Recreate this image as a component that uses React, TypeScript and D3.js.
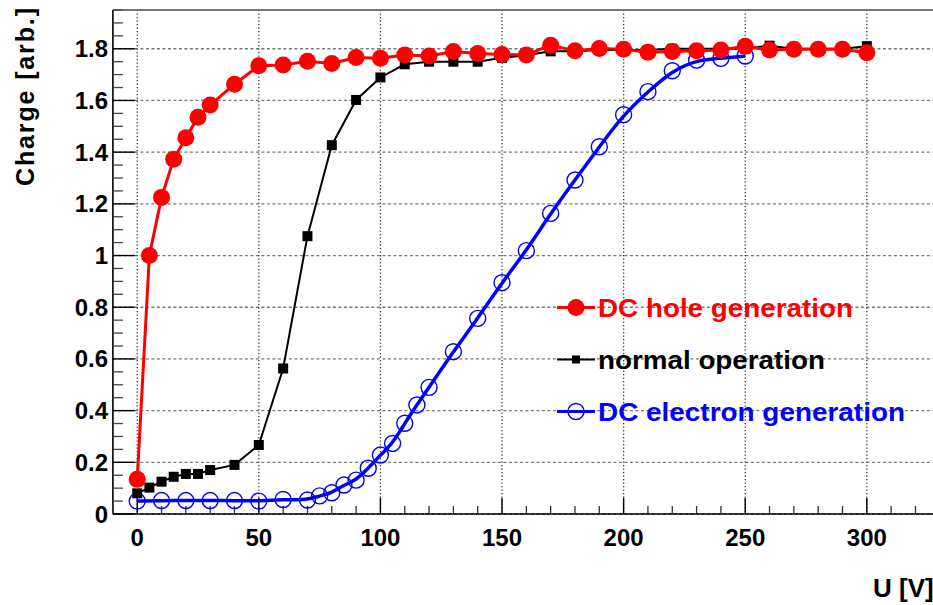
import React from 'react';
import * as d3 from 'd3';

// ---------- data ----------
const holeU = [0, 5, 10, 15, 20, 25, 30, 40, 50, 60, 70, 80, 90, 100, 110, 120, 130, 140, 150, 160, 170, 180, 190, 200, 210, 220, 230, 240, 250, 260, 270, 280, 290, 300];
const holeQ = [0.134, 1.0, 1.225, 1.373, 1.456, 1.535, 1.582, 1.663, 1.734, 1.737, 1.752, 1.743, 1.766, 1.763, 1.776, 1.772, 1.789, 1.782, 1.778, 1.776, 1.814, 1.792, 1.801, 1.798, 1.787, 1.789, 1.792, 1.795, 1.81, 1.795, 1.798, 1.798, 1.798, 1.785];

const normalU = [0, 5, 10, 15, 20, 25, 30, 40, 50, 60, 70, 80, 90, 100, 110, 120, 130, 140, 150, 160, 170, 180, 190, 200, 210, 220, 230, 240, 250, 260, 270, 280, 290, 300];
const normalQ = [0.08, 0.102, 0.125, 0.144, 0.155, 0.155, 0.17, 0.19, 0.267, 0.563, 1.075, 1.427, 1.602, 1.689, 1.74, 1.75, 1.75, 1.75, 1.765, 1.775, 1.79, 1.79, 1.795, 1.795, 1.795, 1.8, 1.8, 1.8, 1.8, 1.812, 1.8, 1.8, 1.8, 1.81];

const electronU = [0, 10, 20, 30, 40, 50, 60, 70, 75, 80, 85, 90, 95, 100, 105, 110, 115, 120, 130, 140, 150, 160, 170, 180, 190, 200, 210, 220, 230, 240, 250];
const electronQ = [0.05, 0.052, 0.052, 0.052, 0.052, 0.05, 0.056, 0.054, 0.07, 0.082, 0.112, 0.131, 0.177, 0.228, 0.273, 0.351, 0.422, 0.49, 0.628, 0.757, 0.895, 1.019, 1.163, 1.292, 1.421, 1.545, 1.634, 1.715, 1.756, 1.763, 1.772];

const xMajorTicks = [0, 50, 100, 150, 200, 250, 300];
const xTickLabels = ['0', '50', '100', '150', '200', '250', '300'];
const xMinorTicks = [-10, 10, 20, 30, 40, 60, 70, 80, 90, 110, 120, 130, 140, 160, 170, 180, 190, 210, 220, 230, 240, 260, 270, 280, 290, 310, 320, 330, 340];
const yMajorTicks = [0, 0.2, 0.4, 0.6, 0.8, 1.0, 1.2, 1.4, 1.6, 1.8];
const yTickLabels = ['0', '0.2', '0.4', '0.6', '0.8', '1', '1.2', '1.4', '1.6', '1.8'];
const yMinorTicks = [0.05, 0.1, 0.15, 0.25, 0.3, 0.35, 0.45, 0.5, 0.55, 0.65, 0.7, 0.75, 0.85, 0.9, 0.95, 1.05, 1.1, 1.15, 1.25, 1.3, 1.35, 1.45, 1.5, 1.55, 1.65, 1.7, 1.75, 1.85, 1.9, 1.95];

const legendLabels = ['DC hole generation', 'normal operation', 'DC electron generation'];
const xTitle = 'U [V]';
const yTitle = 'Charge [arb.]';

const FONT = '"Liberation Sans", Arial, Helvetica, sans-serif';

export default function App() {
  const W = 933;
  const H = 605;
  const x = d3.scaleLinear().domain([-10, 340]).range([112.9, 964.1]);
  const y = d3.scaleLinear().domain([0, 1.95]).range([514, 10]);
  const left = x(-10);
  const right = W;
  const top = y(1.95);
  const bottom = y(0);

  const lineStraight = d3
    .line<[number, number]>()
    .x((d) => x(d[0]))
    .y((d) => y(d[1]));
  const lineSmooth = d3
    .line<[number, number]>()
    .x((d) => x(d[0]))
    .y((d) => y(d[1]))
    .curve(d3.curveBasis);

  const hole: [number, number][] = holeU.map((u, i) => [u, holeQ[i]]);
  const normal: [number, number][] = normalU.map((u, i) => [u, normalQ[i]]);
  const electron: [number, number][] = electronU.map((u, i) => [u, electronQ[i]]);

  const legendY = [307.5, 359.5, 411.5];
  const legendTextLen = [255, 227, 307];
  const legendColors = ['#ff0000', '#000000', '#0000ff'];

  return (
    <svg
      width={W}
      height={H}
      style={{ position: 'absolute', left: 0, top: 0, background: '#fff' }}
      fontFamily={FONT}
    >
      <rect x={0} y={0} width={W} height={H} fill="#fff" />

      {/* grid */}
      {yMajorTicks.map((t) => (
        <line key={'gy' + t} x1={left} x2={right} y1={y(t)} y2={y(t)} stroke="#777" strokeWidth={1.3} strokeDasharray="3,2.5" />
      ))}
      {xMajorTicks.map((t) => (
        <line key={'gx' + t} x1={x(t)} x2={x(t)} y1={top} y2={bottom} stroke="#333" strokeWidth={1.3} strokeDasharray="1.3,2.2" />
      ))}

      {/* frame */}
      <line x1={left} x2={right} y1={top} y2={top} stroke="#777" strokeWidth={2} />
      <line x1={left} x2={left} y1={top} y2={bottom} stroke="#000" strokeWidth={1.6} />
      <line x1={left} x2={right} y1={bottom} y2={bottom} stroke="#000" strokeWidth={1.6} />

      {/* y ticks */}
      {yMajorTicks.map((t) => (
        <line key={'ty' + t} x1={left} x2={left + 22} y1={y(t)} y2={y(t)} stroke="#000" strokeWidth={1.4} />
      ))}
      {yMinorTicks.map((t) => (
        <line key={'tym' + t} x1={left} x2={left + 10} y1={y(t)} y2={y(t)} stroke="#444" strokeWidth={1.3} />
      ))}
      {yMajorTicks.map((t, i) => (
        <text key={'ly' + t} x={108} y={y(t) + 8.5} textAnchor="end" fontSize={24} fontWeight="bold" fill="#000">
          {yTickLabels[i]}
        </text>
      ))}

      {/* x ticks */}
      {xMajorTicks.map((t) => (
        <line key={'tx' + t} x1={x(t)} x2={x(t)} y1={bottom} y2={bottom - 16} stroke="#000" strokeWidth={1.4} />
      ))}
      {xMinorTicks.map((t) => (
        <line key={'txm' + t} x1={x(t)} x2={x(t)} y1={bottom} y2={bottom - 8} stroke="#333" strokeWidth={1.3} />
      ))}
      {xMajorTicks.map((t, i) => (
        <text key={'lx' + t} x={x(t)} y={545.5} textAnchor="middle" fontSize={24} fontWeight="bold" fill="#000">
          {xTickLabels[i]}
        </text>
      ))}

      {/* axis titles */}
      <text x={873} y={597} fontSize={26} fontWeight="bold" fill="#000">
        {xTitle}
      </text>
      <text
        transform="translate(33.5,8) rotate(-90)"
        textAnchor="end"
        fontSize={25}
        fontWeight="bold"
        fill="#000"
        textLength={178}
        lengthAdjust="spacing"
      >
        {yTitle}
      </text>

      {/* electron generation (blue) */}
      <path d={lineSmooth(electron) || ''} fill="none" stroke="#0000ff" strokeWidth={3.5} />
      {electron.map((d, i) => (
        <circle key={'e' + i} cx={x(d[0])} cy={y(d[1])} r={8} fill="none" stroke="#0000ff" strokeWidth={1.4} />
      ))}

      {/* normal operation (black) */}
      <path d={lineStraight(normal) || ''} fill="none" stroke="#000" strokeWidth={2} />
      {normal.map((d, i) => (
        <rect key={'n' + i} x={x(d[0]) - 5} y={y(d[1]) - 5} width={10} height={10} fill="#000" />
      ))}

      {/* hole generation (red) */}
      <path d={lineStraight(hole) || ''} fill="none" stroke="#ff0000" strokeWidth={3} />
      {hole.map((d, i) => (
        <circle key={'h' + i} cx={x(d[0])} cy={y(d[1])} r={8.5} fill="#ff0000" />
      ))}

      {/* legend */}
      {legendLabels.map((lab, i) => (
        <g key={'lg' + i}>
          <line x1={557} x2={595} y1={legendY[i]} y2={legendY[i]} stroke={legendColors[i]} strokeWidth={i === 1 ? 2 : 3} />
          {i === 0 && <circle cx={576} cy={legendY[i]} r={8.5} fill="#ff0000" />}
          {i === 1 && <rect x={572} y={legendY[i] - 4} width={8} height={8} fill="#000" />}
          {i === 2 && <circle cx={576} cy={legendY[i]} r={8} fill="none" stroke="#0000ff" strokeWidth={1.4} />}
          <text
            x={598}
            y={legendY[i] + 9.5}
            fontSize={25}
            fontWeight="bold"
            fill={legendColors[i]}
            textLength={legendTextLen[i]}
            lengthAdjust="spacingAndGlyphs"
          >
            {lab}
          </text>
        </g>
      ))}
    </svg>
  );
}
